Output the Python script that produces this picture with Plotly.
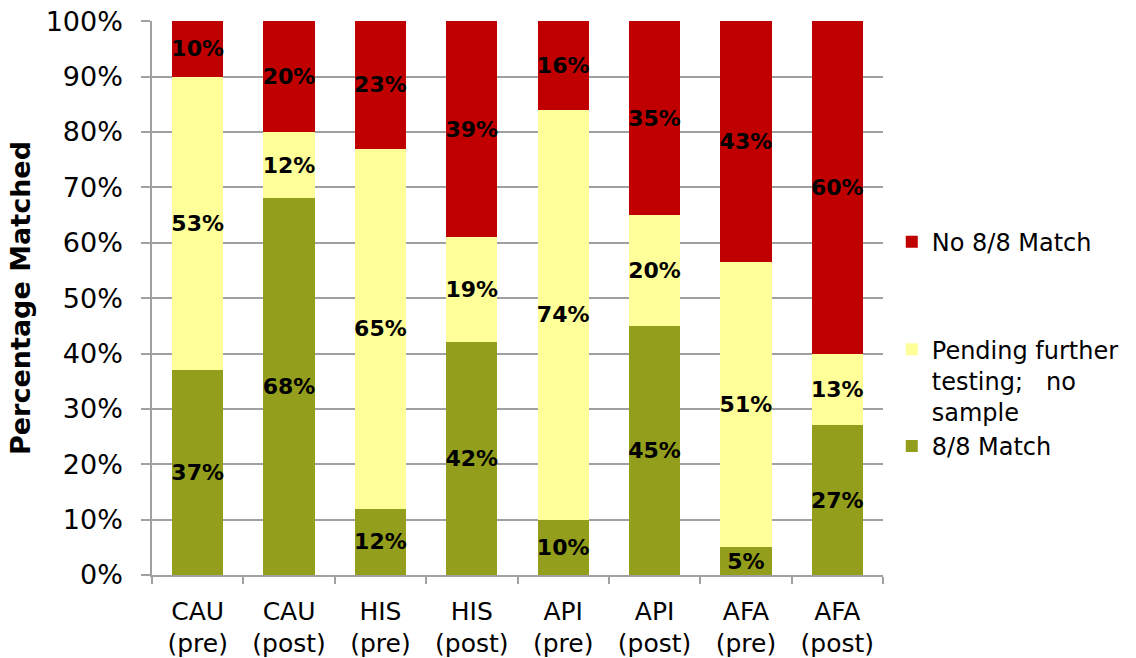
import plotly.graph_objects as go

categories = ["CAU<br>(pre)", "CAU<br>(post)", "HIS<br>(pre)", "HIS<br>(post)",
              "API<br>(pre)", "API<br>(post)", "AFA<br>(pre)", "AFA<br>(post)"]
match_8of8 = [37, 68, 12, 42, 10, 45, 5, 27]
pending = [53, 12, 65, 19, 74, 20, 51, 13]
no_match = [10, 20, 23, 39, 16, 35, 43, 60]
y_ticks = [0, 10, 20, 30, 40, 50, 60, 70, 80, 90, 100]

FONT = "DejaVu Sans"
label_font = dict(family=FONT, size=22, color="black")

fig = go.Figure()
fig.add_trace(go.Bar(
    x=categories, y=match_8of8, name="8/8 Match",
    marker=dict(color="#939E1C", line=dict(width=0)),
    text=[f"<b>{v}%</b>" for v in match_8of8],
    textposition="inside", insidetextanchor="middle", textangle=0,
    textfont=label_font, legend="legend",
))
fig.add_trace(go.Bar(
    x=categories, y=pending, name="Pending further<br>testing;   no<br>sample",
    marker=dict(color="#FFFF99", line=dict(width=0)),
    text=[f"<b>{v}%</b>" for v in pending],
    textposition="inside", insidetextanchor="middle", textangle=0,
    textfont=label_font, legend="legend",
))
fig.add_trace(go.Bar(
    x=categories, y=no_match, name="No 8/8 Match",
    marker=dict(color="#C00000", line=dict(width=0)),
    text=[f"<b>{v}%</b>" for v in no_match],
    textposition="inside", insidetextanchor="middle", textangle=0,
    textfont=label_font, legend="legend2",
))

fig.update_layout(
    width=1136, height=658,
    barmode="stack", barnorm="percent", bargap=0.44,
    plot_bgcolor="white", paper_bgcolor="white",
    margin=dict(l=152, r=247, t=21, b=83),
    font=dict(family=FONT, size=24, color="black"),
    uniformtext=dict(minsize=22, mode="show"),
    legend=dict(
        x=1.012, xanchor="left", y=0.32, yanchor="middle",
        traceorder="reversed", valign="top",
        font=dict(family=FONT, size=24, color="black"),
        bgcolor="rgba(0,0,0,0)",
    ),
    legend2=dict(
        x=1.012, xanchor="left", y=0.601, yanchor="middle",
        font=dict(family=FONT, size=24, color="black"),
        bgcolor="rgba(0,0,0,0)",
    ),
)

fig.update_yaxes(
    range=[0, 100.05], tickvals=y_ticks, ticktext=[f"{v}%" for v in y_ticks],
    automargin=False, ticklabeloverflow="allow",
    showgrid=True, gridcolor="#A0A0A0", gridwidth=1.5,
    showline=True, linecolor="#A0A0A0", linewidth=1.5,
    ticks="outside", ticklen=9, tickcolor="#A0A0A0", tickwidth=1.5,
    ticklabelstandoff=13,
    zeroline=False,
    tickfont=dict(family=FONT, size=27, color="black"),
    title=dict(text="<b>Percentage Matched</b>", font=dict(family=FONT, size=27, color="black"), standoff=7),
)
fig.update_xaxes(
    automargin=False, ticklabeloverflow="allow",
    showline=True, linecolor="#A0A0A0", linewidth=1.5,
    ticks="outside", ticklen=7, tickcolor="#A0A0A0", tickwidth=1.5,
    tickson="boundaries", ticklabelstandoff=13,
    tickfont=dict(family=FONT, size=25, color="black"),
)

fig.write_html("out.html", config={"displayModeBar": False},
               post_script="document.body.style.margin='0';")
